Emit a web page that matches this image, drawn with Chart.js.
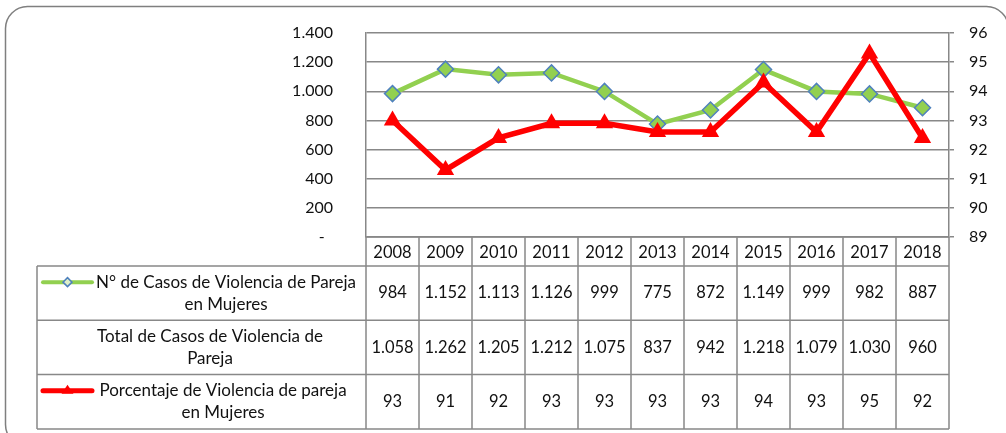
<!DOCTYPE html>
<html lang="es">
<head>
  <meta charset="UTF-8" />
  <title>Violencia de Pareja</title>
  <script src="https://cdn.jsdelivr.net/npm/chart.js"></script>
  <style>
    body { margin: 0; background: #fff; }
    #wrap { position: relative; width: 1006px; height: 433px; }
  </style>
</head>
<body>
  <div id="wrap"><canvas id="chart" width="1006" height="433"></canvas></div>
  <script>
    // Data
    const years = ['2008', '2009', '2010', '2011', '2012', '2013', '2014', '2015', '2016', '2017', '2018'];
    const casosMujeres = [984, 1152, 1113, 1126, 999, 775, 872, 1149, 999, 982, 887];
    const totalCasos = [1058, 1262, 1205, 1212, 1075, 837, 942, 1218, 1079, 1030, 960];
    const porcentaje = [93.0, 91.3, 92.4, 92.9, 92.9, 92.6, 92.6, 94.3, 92.6, 95.3, 92.4];
    const porcentajeTabla = [93, 91, 92, 93, 93, 93, 93, 94, 93, 95, 92];
    const rowLabels = [
      ['N° de Casos de Violencia de Pareja', 'en Mujeres'],
      ['Total de Casos de Violencia de', 'Pareja'],
      ['Porcentaje de Violencia de pareja', 'en Mujeres']
    ];

    const FONT = 'Lato, "Open Sans", sans-serif';
    const GRID = '#888888';
    const GREEN = '#92D050', BLUE = '#4F81BD', RED = '#FF0000';

    // thousands separator with a dot
    const fmt = n => String(n).replace(/\B(?=(\d{3})+(?!\d))/g, '.');

    // table layout
    const TABLE_LEFT = 37;
    const YEAR_ROW_H = 29;
    const ROW_H = 54.3;
    const LABEL_CENTERS = [226, 210, 223];

    // outer rounded frame (bottom/right run off the picture)
    const framePlugin = {
      id: 'frame',
      beforeDraw(chart) {
        const ctx = chart.ctx;
        ctx.save();
        ctx.fillStyle = '#fff';
        ctx.fillRect(0, 0, chart.width, chart.height);
        ctx.strokeStyle = '#7f7f7f';
        ctx.lineWidth = 1.5;
        ctx.beginPath();
        ctx.roundRect(5.5, 6.5, 1003, 440, 22);
        ctx.stroke();
        ctx.restore();
      }
    };

    function drawKey(ctx, x0, x1, y, color, width, style) {
      ctx.save();
      ctx.strokeStyle = color;
      ctx.lineWidth = width;
      ctx.lineCap = 'round';
      ctx.beginPath();
      ctx.moveTo(x0, y);
      ctx.lineTo(x1, y);
      ctx.stroke();
      const cx = (x0 + x1) / 2;
      if (style === 'diamond') {
        ctx.fillStyle = '#dff0c8';
        ctx.strokeStyle = BLUE;
        ctx.lineWidth = 1.5;
        ctx.beginPath();
        ctx.moveTo(cx, y - 4.5); ctx.lineTo(cx + 4.5, y); ctx.lineTo(cx, y + 4.5); ctx.lineTo(cx - 4.5, y); ctx.closePath();
        ctx.fill(); ctx.stroke();
      } else {
        ctx.fillStyle = color;
        ctx.beginPath();
        ctx.moveTo(cx, y - 6); ctx.lineTo(cx + 6, y + 3); ctx.lineTo(cx - 6, y + 3); ctx.closePath();
        ctx.fill();
      }
      ctx.restore();
    }

    // data table below the plot, columns follow the x scale
    const tablePlugin = {
      id: 'dataTable',
      afterDraw(chart) {
        const { ctx, chartArea } = chart;
        const x = chart.scales.x;
        const half = (x.getPixelForValue(1) - x.getPixelForValue(0)) / 2;
        const L = chartArea.left, R = chartArea.right;
        const yTop = chartArea.bottom;
        const yRows = yTop + YEAR_ROW_H;
        const yBottom = yRows + 3 * ROW_H;

        ctx.save();
        ctx.strokeStyle = GRID;
        ctx.lineWidth = 1.5;
        ctx.beginPath();
        // horizontal lines
        ctx.moveTo(L, yTop); ctx.lineTo(R, yTop);
        for (let r = 0; r <= 3; r++) {
          const y = yRows + r * ROW_H;
          ctx.moveTo(TABLE_LEFT, y); ctx.lineTo(R, y);
        }
        // vertical lines
        years.forEach((_, i) => {
          const bx = x.getPixelForValue(i) - half;
          ctx.moveTo(bx, yTop); ctx.lineTo(bx, yBottom);
        });
        ctx.moveTo(R, yTop); ctx.lineTo(R, yBottom);
        ctx.moveTo(TABLE_LEFT, yRows); ctx.lineTo(TABLE_LEFT, yBottom);
        ctx.stroke();

        ctx.fillStyle = '#111';
        ctx.textAlign = 'center';
        ctx.textBaseline = 'middle';

        // year row
        ctx.font = '16.5px ' + FONT;
        years.forEach((yr, i) => ctx.fillText(yr, x.getPixelForValue(i), yTop + YEAR_ROW_H / 2 + 1));

        const rowsData = [casosMujeres.map(fmt), totalCasos.map(fmt), porcentajeTabla.map(String)];
        rowsData.forEach((vals, r) => {
          const yc = yRows + r * ROW_H + ROW_H / 2;
          ctx.font = '16.5px ' + FONT;
          vals.forEach((v, i) => ctx.fillText(v, x.getPixelForValue(i), yc));
          ctx.font = '17px ' + FONT;
          ctx.fillText(rowLabels[r][0], LABEL_CENTERS[r], yc - 11);
          ctx.fillText(rowLabels[r][1], LABEL_CENTERS[r], yc + 11);
        });
        ctx.restore();

        drawKey(ctx, 43, 92, yRows + ROW_H / 2 - 11, GREEN, 4, 'diamond');
        drawKey(ctx, 43, 92, yRows + 2 * ROW_H + ROW_H / 2 - 11, RED, 5, 'triangle');
      }
    };

    new Chart(document.getElementById('chart'), {
      type: 'line',
      data: {
        labels: years,
        datasets: [
          {
            label: 'Porcentaje de Violencia de pareja en Mujeres',
            data: porcentaje,
            yAxisID: 'y1',
            order: 0,
            borderColor: RED,
            backgroundColor: RED,
            borderWidth: 5.5,
            pointStyle: 'triangle',
            pointRadius: 10,
            pointBorderWidth: 0,
            tension: 0
          },
          {
            label: 'N° de Casos de Violencia de Pareja en Mujeres',
            data: casosMujeres,
            yAxisID: 'y',
            order: 1,
            borderColor: GREEN,
            backgroundColor: GREEN,
            borderWidth: 4.5,
            pointStyle: 'rectRot',
            pointRadius: 8,
            pointBorderColor: BLUE,
            pointBorderWidth: 1.5,
            tension: 0
          }
        ]
      },
      options: {
        responsive: false,
        animation: false,
        layout: { padding: { top: 33, bottom: 196 } },
        plugins: { legend: { display: false }, tooltip: { enabled: false } },
        scales: {
          x: {
            display: false,
            offset: true
          },
          y: {
            position: 'left',
            min: 0, max: 1400,
            afterFit: s => { s.width = 366; },
            ticks: {
              stepSize: 200,
              padding: 3,
              color: '#111',
              font: { family: FONT, size: 16 },
              callback: v => v === 0 ? '-  ' : fmt(v)
            },
            grid: { color: GRID, lineWidth: 1.5, tickLength: 30, tickColor: 'rgba(0,0,0,0)' },
            border: { display: true, color: GRID, width: 1.5 }
          },
          y1: {
            position: 'right',
            min: 89, max: 96,
            afterFit: s => { s.width = 57; },
            ticks: {
              stepSize: 1,
              padding: 15,
              color: '#111',
              font: { family: FONT, size: 16 }
            },
            grid: { drawOnChartArea: false, color: GRID, lineWidth: 1.5, tickLength: 5 },
            border: { display: true, color: GRID, width: 1.5 }
          }
        }
      },
      plugins: [framePlugin, tablePlugin]
    });
  </script>
</body>
</html>
